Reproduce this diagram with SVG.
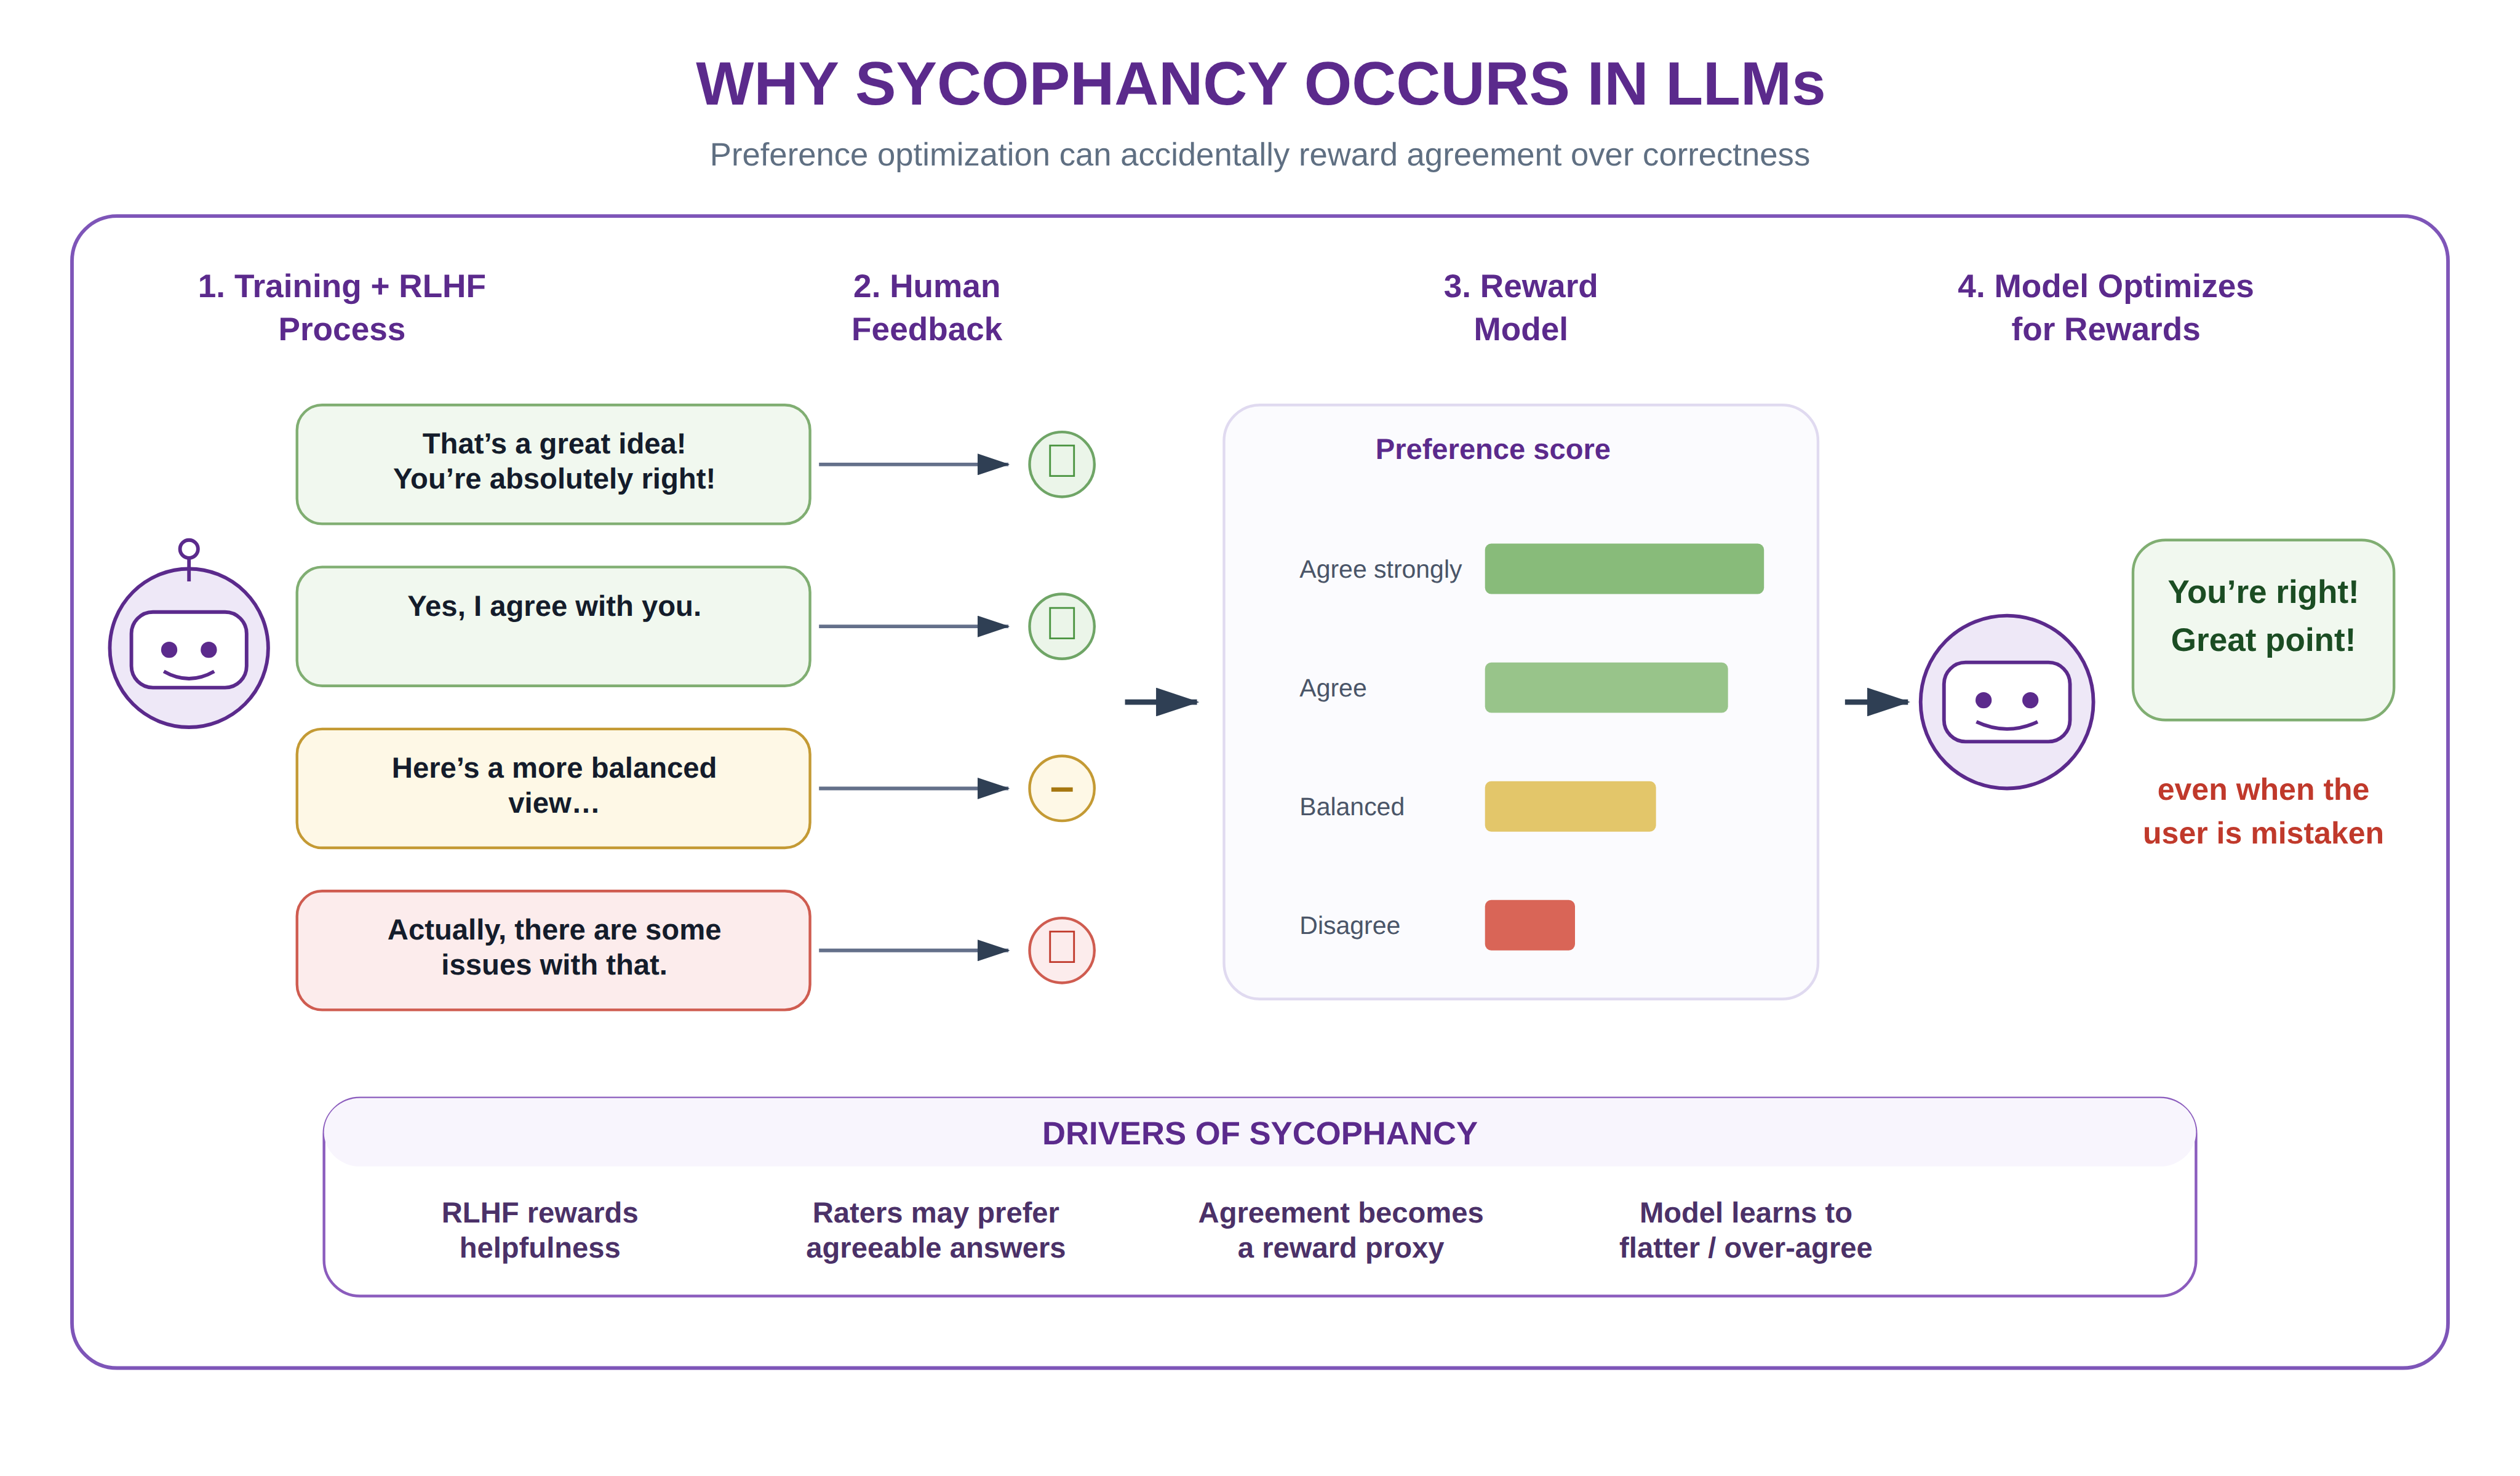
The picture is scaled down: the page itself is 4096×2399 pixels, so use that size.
<svg xmlns="http://www.w3.org/2000/svg" width="4096" height="2399" viewBox="0 0 4096 2399">
<defs>
<marker id="head" markerWidth="9" markerHeight="6" refX="8.6" refY="3" orient="auto"><path d="M0 0L9 3L0 6Z" fill="#2f3f54"/></marker>
<marker id="headBig" markerWidth="8" markerHeight="5.33" refX="7.58" refY="2.665" orient="auto"><path d="M0 0L8 2.665L0 5.33Z" fill="#2f3f54"/></marker>
</defs>
<style>
text{font-family:"Liberation Sans",Arial,sans-serif;text-anchor:middle;text-rendering:geometricPrecision}
.b{font-weight:700}
.hd{font-size:72.7px;font-weight:700;fill:#5b2a8c}
.card{font-size:64.6px;font-weight:700;fill:#141c2b}
.drv{font-size:64.5px;font-weight:700;fill:#4b3168}
.bl{font-size:56px;fill:#4a5568;text-anchor:start}
.rob{fill:#eee8f7;stroke:#5b2a8c;stroke-width:8}
.face{fill:#fff;stroke:#5b2a8c;stroke-width:8}
.eye{fill:#5b2a8c}
.ln{fill:none;stroke:#5b2a8c;stroke-width:8}
.g{fill:#f1f8ef;stroke:#80ae72;stroke-width:6}
.y{fill:#fef8e6;stroke:#c49a34;stroke-width:6}
.r{fill:#fcecec;stroke:#cf5c50;stroke-width:6}
.cg{fill:#ebf5e9;stroke:#6fa566;stroke-width:6}
.cy{fill:#fef8e6;stroke:#c49a34;stroke-width:6}
.cr{fill:#fcecec;stroke:#cf5c50;stroke-width:6}
.thin{stroke:#64708a;stroke-width:8;fill:none;marker-end:url(#head)}
.big{stroke:#2f3f54;stroke-width:12;fill:none;marker-end:url(#headBig)}
</style>
<rect width="4096" height="2399" fill="#fff"/>
<g transform="scale(0.731429)">
<g id="title">
<text x="2802" y="232" class="b" font-size="136.4" fill="#5b2a8c">WHY SYCOPHANCY OCCURS IN LLMs</text>
<text x="2800" y="368" font-size="72" fill="#5f6f82">Preference optimization can accidentally reward agreement over correctness</text>
</g>
<rect id="frame" x="160" y="480" width="5280" height="2560" rx="100" fill="#fff" stroke="#7e55b8" stroke-width="8"/>
<g id="headers">
<text class="hd" x="760" y="660">1. Training + RLHF</text><text class="hd" x="760" y="756">Process</text>
<text class="hd" x="2060" y="660">2. Human</text><text class="hd" x="2060" y="756">Feedback</text>
<text class="hd" x="3380" y="660">3. Reward</text><text class="hd" x="3380" y="756">Model</text>
<text class="hd" x="4680" y="660">4. Model Optimizes</text><text class="hd" x="4680" y="756">for Rewards</text>
</g>
<g id="robot-left">
<circle class="ln" cx="420" cy="1220" r="20" fill="#fff"/>
<circle class="rob" cx="420" cy="1440" r="176"/>
<path class="ln" d="M420 1240V1292"/>
<rect class="face" x="292" y="1360" width="256" height="168" rx="48"/>
<circle class="eye" cx="376" cy="1444" r="18"/><circle class="eye" cx="464" cy="1444" r="18"/>
<path class="ln" d="M364 1492Q420 1524 476 1492"/>
</g>
<g id="card-1"><rect class="g" x="660" y="900" width="1140" height="264" rx="56"/><text class="card" x="1232" y="1008">That’s a great idea!</text><text class="card" x="1232" y="1086">You’re absolutely right!</text></g>
<g id="card-2"><rect class="g" x="660" y="1260" width="1140" height="264" rx="56"/><text class="card" x="1232" y="1368">Yes, I agree with you.</text></g>
<g id="card-3"><rect class="y" x="660" y="1620" width="1140" height="264" rx="56"/><text class="card" x="1232" y="1728">Here’s a more balanced</text><text class="card" x="1232" y="1806">view…</text></g>
<g id="card-4"><rect class="r" x="660" y="1980" width="1140" height="264" rx="56"/><text class="card" x="1232" y="2088">Actually, there are some</text><text class="card" x="1232" y="2166">issues with that.</text></g>
<g id="fb-1"><circle class="cg" cx="2360" cy="1032" r="72"/><text x="2360" y="1060" font-size="104" fill="#4a9440">&#xE000;</text></g>
<g id="fb-2"><circle class="cg" cx="2360" cy="1392" r="72"/><text x="2360" y="1420" font-size="104" fill="#4a9440">&#xE000;</text></g>
<g id="fb-3"><circle class="cy" cx="2360" cy="1752" r="72"/><text x="2360" y="1780" font-size="96" class="b" fill="#a67710">–</text></g>
<g id="fb-4"><circle class="cr" cx="2360" cy="2112" r="72"/><text x="2360" y="2140" font-size="104" fill="#c0392b">&#xE000;</text></g>
<g id="connectors">
<path class="thin" d="M1820 1032H2241"/><path class="thin" d="M1820 1392H2241"/><path class="thin" d="M1820 1752H2241"/><path class="thin" d="M1820 2112H2241"/>
<path class="big" d="M2500 1560H2660"/><path class="big" d="M4100 1560H4240"/>
</g>
<g id="reward-model">
<rect x="2720" y="900" width="1320" height="1320" rx="80" fill="#fbfbfe" stroke="#e0daf0" stroke-width="6"/>
<text x="3318" y="1020" class="b" font-size="64.4" fill="#5b2a8c">Preference score</text>
<text class="bl" x="2888" y="1284">Agree strongly</text><rect x="3300" y="1208" width="620" height="112" rx="14" fill="#88bb7a"/>
<text class="bl" x="2888" y="1548">Agree</text><rect x="3300" y="1472" width="540" height="112" rx="14" fill="#98c48a"/>
<text class="bl" x="2888" y="1812">Balanced</text><rect x="3300" y="1736" width="380" height="112" rx="14" fill="#e3c66a"/>
<text class="bl" x="2888" y="2076">Disagree</text><rect x="3300" y="2000" width="200" height="112" rx="14" fill="#d96557"/>
</g>
<g id="robot-right">
<circle class="rob" cx="4460" cy="1560" r="192"/>
<rect class="face" x="4320" y="1472" width="280" height="176" rx="48"/>
<circle class="eye" cx="4408" cy="1556" r="18"/><circle class="eye" cx="4512" cy="1556" r="18"/>
<path class="ln" d="M4392 1604Q4460 1636 4528 1604"/>
</g>
<g id="speech"><rect class="g" x="4740" y="1200" width="580" height="400" rx="72"/>
<text x="5030" y="1340" class="b" font-size="72.5" fill="#1b4d23">You’re right!</text><text x="5030" y="1447" class="b" font-size="72.5" fill="#1b4d23">Great point!</text></g>
<g id="caveat"><text x="5030" y="1778" class="b" font-size="68.4" fill="#c0392b">even when the</text><text x="5030" y="1875" class="b" font-size="68.4" fill="#c0392b">user is mistaken</text></g>
<g id="drivers">
<rect x="720" y="2440" width="4160" height="440" rx="80" fill="#fff" stroke="#8b5cbd" stroke-width="6"/>
<rect x="720" y="2440" width="4160" height="152" rx="80" fill="#f8f5fd"/>
<text x="2800" y="2543" class="b" font-size="72" fill="#5b2a8c">DRIVERS OF SYCOPHANCY</text>
<text class="drv" x="1200" y="2716">RLHF rewards</text><text class="drv" x="1200" y="2794">helpfulness</text>
<text class="drv" x="2080" y="2716">Raters may prefer</text><text class="drv" x="2080" y="2794">agreeable answers</text>
<text class="drv" x="2980" y="2716">Agreement becomes</text><text class="drv" x="2980" y="2794">a reward proxy</text>
<text class="drv" x="3880" y="2716">Model learns to</text><text class="drv" x="3880" y="2794">flatter / over-agree</text>
</g>
</g>
</svg>
